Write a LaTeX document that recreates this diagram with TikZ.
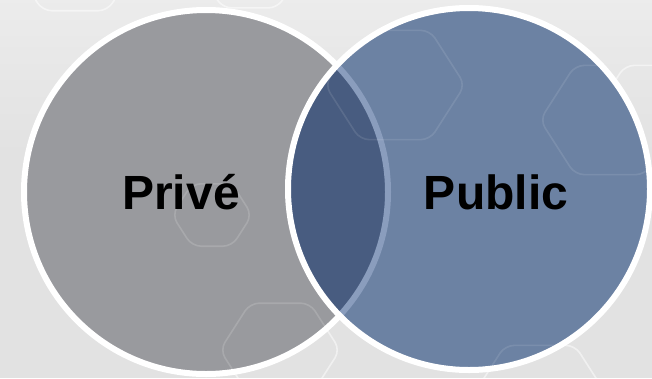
\documentclass[tikz,border=0pt]{standalone}
\usepackage{fontspec}
\setmainfont{Liberation Sans}
\definecolor{bgcol}{HTML}{E2E2E2}
\definecolor{privecol}{HTML}{999A9E}
\definecolor{publiccol}{HTML}{6C82A3}
\definecolor{overlapcol}{HTML}{485C80}
\definecolor{fadedring}{HTML}{8A9DBD}
\begin{document}
\begin{tikzpicture}[x=1pt,y=-1pt,
  ring/.style={line width=6pt, draw=white},
  lbl/.style={font=\fontsize{48}{56}\selectfont\bfseries, text=black, anchor=base, inner sep=0pt},
  hex/.style={draw=white, draw opacity=0.5, line width=1.6pt, rounded corners=9pt},
  hexa/.pic={\draw[hex] (-1,0)--(-0.5,-0.78)--(0.5,-0.78)--(1,0)--(0.5,0.78)--(-0.5,0.78)--cycle;}]
\fill[bgcol] (0,0) rectangle (652,378);
\shade[top color=white, bottom color=bgcol, opacity=0.35] (0,0) rectangle (652,160);
\useasboundingbox (0,0) rectangle (652,378);
% faint background hexagons
\pic[scale=65] at (75,-40) {hexa};
\pic[scale=55] at (250,-35) {hexa};
\pic[scale=70] at (660,120) {hexa};
\pic[scale=70] at (540,400) {hexa};
\pic[scale=60] at (280,350) {hexa};
% circle centres
\coordinate (cl) at (206,192);
\coordinate (cr) at (469,189);
% left circle
\fill[privecol] (cl) circle (182pt);
\begin{scope}[hex/.append style={draw opacity=0.15}]
  \clip (cl) circle (182pt);
  \pic[scale=40] at (212,215) {hexa};
  \pic[scale=60] at (280,350) {hexa};
\end{scope}
\draw[ring] (cl) circle (182pt);
% right circle
\fill[publiccol] (cr) circle (181pt);
\begin{scope}
  \clip (cl) circle (182pt);
  \fill[overlapcol] (cr) circle (181pt);
\end{scope}
\begin{scope}
  \clip (cr) circle (181pt);
  \draw[line width=6pt, draw=fadedring] (cl) circle (182pt);
  \begin{scope}[hex/.append style={draw opacity=0.1}]
    \pic[scale=70] at (395,85) {hexa};
    \pic[scale=70] at (610,120) {hexa};
    \pic[scale=70] at (540,400) {hexa};
  \end{scope}
\end{scope}
\draw[ring] (cr) circle (181pt);
% labels
\node[lbl] (prive) at (181,209) {Privé};
\node[lbl] (public) at (496,209) {Public};
\end{tikzpicture}
\end{document}
